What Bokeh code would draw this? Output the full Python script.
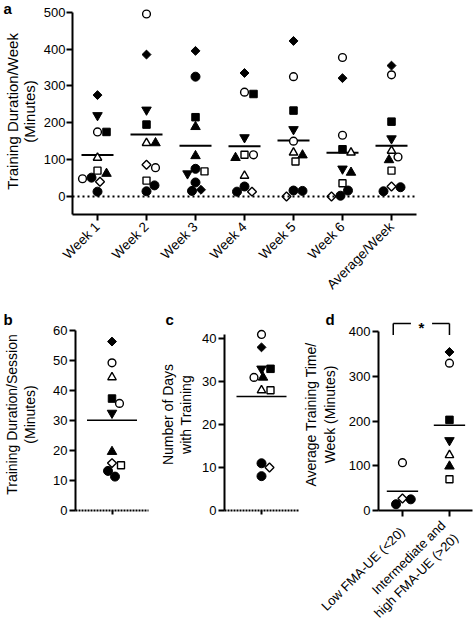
import numpy as np
from bokeh.plotting import figure
from bokeh.layouts import column, row
from bokeh.models import Range1d, FixedTicker, Span, Title, ColumnDataSource
from bokeh.core.properties import value
from bokeh.embed import file_html
from bokeh.resources import INLINE

FONT = "Liberation Sans"

# ---------------- data ----------------
week_labels = ["Week 1", "Week 2", "Week 3", "Week 4", "Week 5", "Week 6", "Average/Week"]
# one entry per subject (11 subjects)
subject_marker = ["diamond", "circle", "inverted_triangle", "square", "triangle", "triangle",
                  "square", "diamond", "circle", "circle", "circle"]
subject_filled = [True, False, True, True, False, True, False, False, True, True, False]

week1 = [275, 175, 220, 175, 105, 62, 70, 40, 13, 51, 48]
week2 = [385, 495, 235, 195, 145, 145, 43, 86, 14, 30, 78]
week3 = [395, 325, 62, 215, 189, 110, 68, 18, 15, 38, 75]
week4 = [335, 283, 160, 278, 56, 105, 113, 13, 13, 27, 113]
week5 = [422, 325, 182, 233, 119, 112, 95, 0, 16, 15, 150]
week6 = [321, 377, 75, 128, 119, 65, 36, 0, 16, 2, 166]
avg_week = [355, 330, 157, 203, 124, 99, 70, 27, 14, 25, 107]
week3_drawn_solid = [1, 4, 7, 10]   # subjects whose symbols appear solid in Week 3

session_minutes = [56.3, 49.2, 32.5, 37.3, 44.4, 19.6, 15.1, 15.8, 11.3, 13.2, 35.7]
training_days = [38, 41, 33, 33, 28, 31, 28, 10, 8, 11, 31]
fma_group = [2, 2, 2, 2, 2, 2, 2, 1, 1, 1, 1]
group_labels = ["Low FMA-UE (<20)", "Intermediate and\nhigh FMA-UE (>20)"]

a_yticks = [0, 100, 200, 300, 400, 500]
b_yticks = [0, 10, 20, 30, 40, 50, 60]
c_yticks = [0, 10, 20, 30, 40]
d_yticks = [0, 100, 200, 300, 400]


# ---------------- helpers ----------------
def sym(marker, filled):
    if marker == "diamond":
        d = dict(marker="square", angle=np.pi / 4, size=6.3)
    elif marker == "circle":
        d = dict(marker="circle", angle=0.0, size=9.0 if filled else 7.8)
    elif marker == "square":
        d = dict(marker="square", angle=0.0, size=7.5 if filled else 7.0)
    else:
        d = dict(marker=marker, angle=0.0, size=9.5 if filled else 8.5)
    d["fill"] = "black" if filled else "white"
    d["lw"] = 1.0 if filled else 1.4
    return d


def swarm(vals, ypx, dmin=9.0):
    vals = np.asarray(vals, float)
    order = np.argsort(-vals, kind="stable")
    cands = [0.0] + [s * k * 0.5 for k in range(1, 80) for s in (1, -1)]
    placed, offs = [], np.zeros(len(vals))
    for i in order:
        y = vals[i] * ypx
        for c in cands:
            if all((c - ox) ** 2 + (y - oy) ** 2 >= dmin * dmin for ox, oy in placed):
                break
        offs[i] = c
        placed.append((c, y))
    return offs


def column_source(xc, vals, idx, xpx, ypx, solid=()):
    offs = swarm(vals, ypx)
    cols = dict(x=[], y=[], marker=[], angle=[], size=[], fill=[], lw=[])
    for k, (v, s) in enumerate(zip(vals, idx)):
        st = sym(subject_marker[s], subject_filled[s] or s in solid)
        cols["x"].append(xc + offs[k] / xpx)
        cols["y"].append(v)
        for key in ("marker", "angle", "size", "fill", "lw"):
            cols[key].append(st[key])
    return cols


def merge(dicts):
    out = {k: [] for k in dicts[0]}
    for d in dicts:
        for k in out:
            out[k] += d[k]
    return ColumnDataSource(out)


def make_fig(w, h, xr, yr, bl, br, bt, bb, letter, offset, standoff):
    title = Title(text=letter, align="left", offset=offset, standoff=standoff,
                  text_font=FONT, text_font_style="bold", text_font_size="15px",
                  text_color="black")
    p = figure(width=w, height=h, x_range=Range1d(*xr), y_range=Range1d(*yr),
               output_backend="svg", toolbar_location=None, title=title,
               min_border_left=bl, min_border_right=br, min_border_top=bt, min_border_bottom=bb)
    p.grid.visible = False
    p.outline_line_color = None
    p.background_fill_color = "white"
    p.border_fill_color = "white"
    return p


def style_axis(ax, lw=2, tick=6, fs="13px"):
    ax.axis_line_width = lw
    ax.axis_line_color = "black"
    ax.major_tick_line_width = lw
    ax.major_tick_line_color = "black"
    ax.major_tick_out = tick
    ax.major_tick_in = 0
    ax.minor_tick_line_color = None
    ax.major_label_text_font = FONT
    ax.major_label_text_font_size = fs
    ax.major_label_text_color = "black"
    ax.major_label_standoff = 2
    ax.axis_label_text_font = FONT
    ax.axis_label_text_font_style = "normal"
    ax.axis_label_text_color = "black"
    ax.axis_label_text_line_height = 1.15


def scatter(p, src):
    p.scatter(x="x", y="y", marker="marker", angle="angle", size="size", fill_color="fill",
              line_color="black", line_width="lw", source=src)


# ---------------- panel a ----------------
A_W, A_H, A_BL, A_BR, A_BT, A_BB = 473, 310, 72, 57, 8, 96
a_fw, a_fh = A_W - A_BL - A_BR, A_H - A_BT - A_BB
a_xr = (1 - 25 / 49, 7 + 25 / 49)
a_yr = (-49, 510)
a_xpx = a_fw / (a_xr[1] - a_xr[0])
a_ypx = a_fh / (a_yr[1] - a_yr[0])

pa = make_fig(A_W, A_H, a_xr, a_yr, A_BL, A_BR, A_BT, A_BB, "a", -69, -16)
weekly = [week1, week2, week3, week4, week5, week6, avg_week]
subj = list(range(len(subject_marker)))
parts = []
for w, vals in enumerate(weekly):
    solid = week3_drawn_solid if w == 2 else ()
    parts.append(column_source(w + 1, vals, subj, a_xpx, a_ypx, solid))
    m = float(np.mean(vals))
    pa.segment(x0=[w + 1 - 16 / a_xpx], x1=[w + 1 + 16 / a_xpx], y0=[m], y1=[m],
               line_color="black", line_width=2)
pa.add_layout(Span(location=0, dimension="width", line_color="black", line_width=2,
                   line_dash="2 3"))
scatter(pa, merge(parts))
style_axis(pa.xaxis[0], fs="13.5px")
style_axis(pa.yaxis[0])
pa.xaxis.ticker = FixedTicker(ticks=list(range(1, 8)))
pa.xaxis.major_label_overrides = {i + 1: lab for i, lab in enumerate(week_labels)}
pa.xaxis.major_label_orientation = np.pi / 4
pa.xaxis.major_label_standoff = 4
pa.yaxis.ticker = FixedTicker(ticks=a_yticks)
pa.yaxis.bounds = (a_yr[0], 500)
pa.yaxis.major_label_standoff = 1
pa.yaxis.axis_label = "Training Duration/Week\n(Minutes)"
pa.yaxis.axis_label_text_font_size = "15px"
pa.yaxis.axis_label_text_line_height = 1.0
pa.yaxis.axis_label_standoff = 3

# ---------------- row b, c, d ----------------
R_H, R_BT, LET_SO = 325, 8, -18

# b
B_W, B_BL, B_BR = 150, 75, 2
b_fh = 199
B_BB = R_H - R_BT - b_fh
b_ypx = 3.11
b_yr = (0, b_fh / b_ypx)
pb = make_fig(B_W, R_H, (-1, 1), b_yr, B_BL, B_BR, R_BT, B_BB, "b", -72, LET_SO)
b_xpx = (B_W - B_BL - B_BR) / 2
scatter(pb, merge([column_source(0, session_minutes, subj, b_xpx, b_ypx)]))
mb = float(np.mean(session_minutes))
pb.segment(x0=[-25 / b_xpx], x1=[25 / b_xpx], y0=[mb], y1=[mb], line_color="black", line_width=1.5)
style_axis(pb.xaxis[0], tick=4)
style_axis(pb.yaxis[0])
pb.xaxis.axis_line_dash = "2 1"
pb.xaxis.ticker = FixedTicker(ticks=[0])
pb.xaxis.major_label_overrides = {0: ""}
pb.yaxis.ticker = FixedTicker(ticks=b_yticks)
pb.yaxis.bounds = (0, 60)
pb.yaxis.axis_label = "Training Duration/Session\n(Minutes)"
pb.yaxis.axis_label_text_font_size = "14px"
pb.yaxis.axis_label_standoff = 12

# c
C_W, C_BL, C_BR = 150, 74, 2
c_fh = 199
C_BB = R_H - R_BT - c_fh
c_ypx = 4.45
c_yr = (0, c_fh / c_ypx)
pc = make_fig(C_W, R_H, (-1, 1), c_yr, C_BL, C_BR, R_BT, C_BB, "c", -59, LET_SO)
c_xpx = (C_W - C_BL - C_BR) / 2
scatter(pc, merge([column_source(0, training_days, subj, c_xpx, c_ypx)]))
mc = float(np.mean(training_days))
pc.segment(x0=[-25 / c_xpx], x1=[25 / c_xpx], y0=[mc], y1=[mc], line_color="black", line_width=1.5)
style_axis(pc.xaxis[0], tick=4)
style_axis(pc.yaxis[0])
pc.xaxis.axis_line_dash = "2 1"
pc.xaxis.ticker = FixedTicker(ticks=[0])
pc.xaxis.major_label_overrides = {0: ""}
pc.yaxis.ticker = FixedTicker(ticks=c_yticks)
pc.yaxis.bounds = (0, 41)
pc.yaxis.axis_label = "Number of Days\nwith Training"
pc.yaxis.axis_label_text_font_size = "14px"
pc.yaxis.axis_label_standoff = 5

# d
D_W, D_BL, D_BR = 173, 70, 1
d_fh = 201
D_BB = R_H - R_BT - d_fh
d_ypx = 0.4675
d_yr = (0, d_fh / d_ypx)
d_xr = (1 - 26 / 51, 2 + 25 / 51)
pd_ = make_fig(D_W, R_H, d_xr, d_yr, D_BL, D_BR, R_BT, D_BB, "d", -53, LET_SO)
d_xpx = (D_W - D_BL - D_BR) / (d_xr[1] - d_xr[0])
dparts = []
for g in (1, 2):
    idx = [i for i in subj if fma_group[i] == g]
    vals = [avg_week[i] for i in idx]
    dparts.append(column_source(g, vals, idx, d_xpx, d_ypx))
    m = float(np.mean(vals))
    pd_.segment(x0=[g - 17 / d_xpx], x1=[g + 17 / d_xpx], y0=[m], y1=[m],
                line_color="black", line_width=1.5)
scatter(pd_, merge(dparts))
# significance bracket
bx0, bx1, by, byl = 1 - 10 / d_xpx, 2.0, 419, 393
pd_.segment(x0=[bx0, bx0, 1.63, bx1], x1=[bx0, 1.18, bx1, bx1], y0=[byl, by, by, by],
            y1=[by, by, by, byl], line_color="black", line_width=1.5)
pd_.text(x=[(bx0 + bx1) / 2], y=[by - 9], text=["*"], text_font=value(FONT),
         text_font_style="bold", text_font_size="15px", text_align="center",
         text_baseline="alphabetic", text_color="black")
style_axis(pd_.xaxis[0])
style_axis(pd_.yaxis[0])
pd_.xaxis.ticker = FixedTicker(ticks=[1, 2])
pd_.xaxis.major_label_overrides = {1: group_labels[0], 2: group_labels[1]}
pd_.xaxis.major_label_orientation = np.pi / 4
pd_.xaxis.major_label_standoff = 13
pd_.yaxis.ticker = FixedTicker(ticks=d_yticks)
pd_.yaxis.bounds = (0, 400)
pd_.yaxis.axis_label = "Average Training Time/\nWeek (Minutes)"
pd_.yaxis.axis_label_text_font_size = "14px"
pd_.yaxis.axis_label_standoff = 8

layout = column(pa, row(pb, pc, pd_, spacing=0), spacing=0)
open("out.html", "w").write(file_html(layout, INLINE))
